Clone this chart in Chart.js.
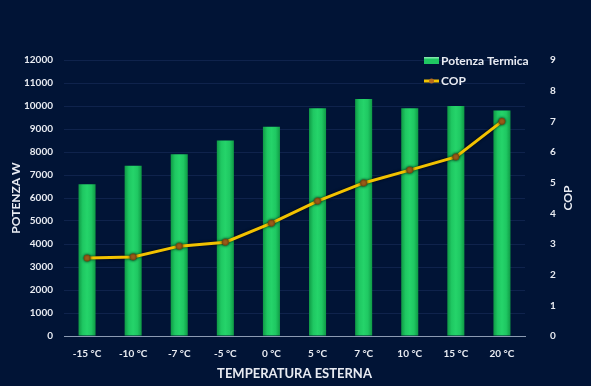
<!DOCTYPE html>
<html>
<head>
<meta charset="utf-8">
<script src="https://cdn.jsdelivr.net/npm/chart.js@4"></script>
<style>
  html, body { margin: 0; padding: 0; background: #011436; }
  #wrap { width: 591px; height: 386px; }
</style>
</head>
<body>
<div id="wrap"><canvas id="myChart" width="591" height="386"></canvas></div>
<script>
// Categories (outside temperature)
const temperature = ['-15 °C', '-10 °C', '-7 °C', '-5 °C', '0 °C', '5 °C', '7 °C', '10 °C', '15 °C', '20 °C'];

// Thermal power in W
const potenzaTermica = [6600, 7400, 7900, 8500, 9100, 9900, 10300, 9900, 10000, 9800];

// Coefficient of performance
const cop = [2.54, 2.58, 2.93, 3.06, 3.68, 4.4, 4.99, 5.41, 5.84, 7.0];

const font = 'Lato, "Open Sans", sans-serif';
const textColor = '#e8ebf2';

// Green bar with a darker edge, brighter middle.
function barFill(context) {
  const chart = context.chart;
  const x = chart.scales.x;
  if (!x || !chart.chartArea) return '#1cc75e';
  const cx = x.getPixelForValue(context.dataIndex);
  const half = (x.width / temperature.length) * 0.37 / 2;
  const g = chart.ctx.createLinearGradient(cx - half, 0, cx + half, 0);
  g.addColorStop(0, '#0f9a45');
  g.addColorStop(0.25, '#1fc862');
  g.addColorStop(0.5, '#25d46a');
  g.addColorStop(0.75, '#1fc862');
  g.addColorStop(1, '#0f9a45');
  return g;
}

// Draws the legend inside the plot and the right axis title.
const extras = {
  id: 'extras',
  beforeDatasetDraw(chart, args) {
    if (args.meta.type === 'line') {
      chart.ctx.save();
      chart.ctx.shadowColor = 'rgba(0,0,0,0.8)';
      chart.ctx.shadowBlur = 3;
    }
  },
  afterDatasetDraw(chart, args) {
    if (args.meta.type === 'line') chart.ctx.restore();
  },
  afterDraw(chart) {
    const ctx = chart.ctx;
    const bars = chart.data.datasets.find(d => d.type === 'bar');
    const line = chart.data.datasets.find(d => d.type === 'line');
    ctx.save();
    ctx.font = 'bold 12px ' + font;
    ctx.textBaseline = 'middle';
    // bar entry
    ctx.fillStyle = '#1fc862';
    ctx.fillRect(424, 57, 15, 7);
    ctx.fillStyle = '#7fe8a8';
    ctx.fillRect(424, 57, 15, 1.5);
    ctx.fillStyle = textColor;
    ctx.fillText(bars.label, 441, 61);
    // line entry
    ctx.strokeStyle = '#f2c200';
    ctx.lineWidth = 3;
    ctx.beginPath();
    ctx.moveTo(424, 81);
    ctx.lineTo(439, 81);
    ctx.stroke();
    ctx.fillStyle = '#b86b1d';
    ctx.beginPath();
    ctx.arc(431.5, 81, 2.5, 0, Math.PI * 2);
    ctx.fill();
    ctx.fillStyle = textColor;
    ctx.fillText(line.label, 441, 81);
    // right axis title
    ctx.translate(568, (chart.chartArea.top + chart.chartArea.bottom) / 2);
    ctx.rotate(-Math.PI / 2);
    ctx.textAlign = 'center';
    ctx.fillText('COP', 0, 0);
    ctx.restore();
  }
};

const data = {
  labels: temperature,
  datasets: [
    {
      type: 'line',
      label: 'COP',
      data: cop,
      yAxisID: 'y1',
      borderColor: '#f2c200',
      borderWidth: 3,
      pointRadius: 3,
      pointBackgroundColor: '#b86b1d',
      pointBorderColor: '#7a4a10',
      pointBorderWidth: 1,
      tension: 0,
      order: 0,
    },
    {
      type: 'bar',
      label: 'Potenza Termica',
      data: potenzaTermica,
      yAxisID: 'y',
      backgroundColor: barFill,
      borderWidth: 0,
      categoryPercentage: 1,
      barPercentage: 0.37,
      order: 1,
    },
  ],
};

const config = {
  data: data,
  plugins: [extras],
  options: {
    responsive: false,
    animation: false,
    layout: { padding: { top: 60, left: 0, right: 0, bottom: 0 } },
    plugins: {
      legend: { display: false },
      tooltip: { enabled: false },
    },
    scales: {
      x: {
        grid: { display: false },
        border: { color: '#8c9bb3', width: 1 },
        ticks: { color: textColor, font: { family: font, size: 10, weight: 'bold' }, padding: 4 },
        title: {
          display: true,
          text: 'TEMPERATURA ESTERNA',
          color: textColor,
          font: { family: font, size: 13, weight: 'bold' },
          padding: { top: 2 },
        },
        afterFit(scale) { scale.height = 50; },
      },
      y: {
        position: 'left',
        min: 0,
        max: 12000,
        grid: { color: '#0f234c', lineWidth: 1, drawTicks: false },
        border: { display: false },
        ticks: {
          stepSize: 1000,
          color: textColor,
          font: { family: font, size: 10, weight: 'bold' },
          padding: 11,
          callback: (v) => String(v),
        },
        title: {
          display: true,
          text: 'POTENZA W',
          color: textColor,
          font: { family: font, size: 12, weight: 'bold' },
          padding: { top: 9, bottom: 0 },
        },
        afterFit(scale) { scale.width = 64; },
      },
      y1: {
        position: 'right',
        min: 0,
        max: 9,
        grid: { display: false, drawTicks: false },
        border: { display: false },
        ticks: { stepSize: 1, color: textColor, font: { family: font, size: 10, weight: 'bold' }, padding: 25 },
        afterFit(scale) { scale.width = 66; },
      },
    },
  },
};

const chart = new Chart(document.getElementById('myChart'), config);
</script>
</body>
</html>
